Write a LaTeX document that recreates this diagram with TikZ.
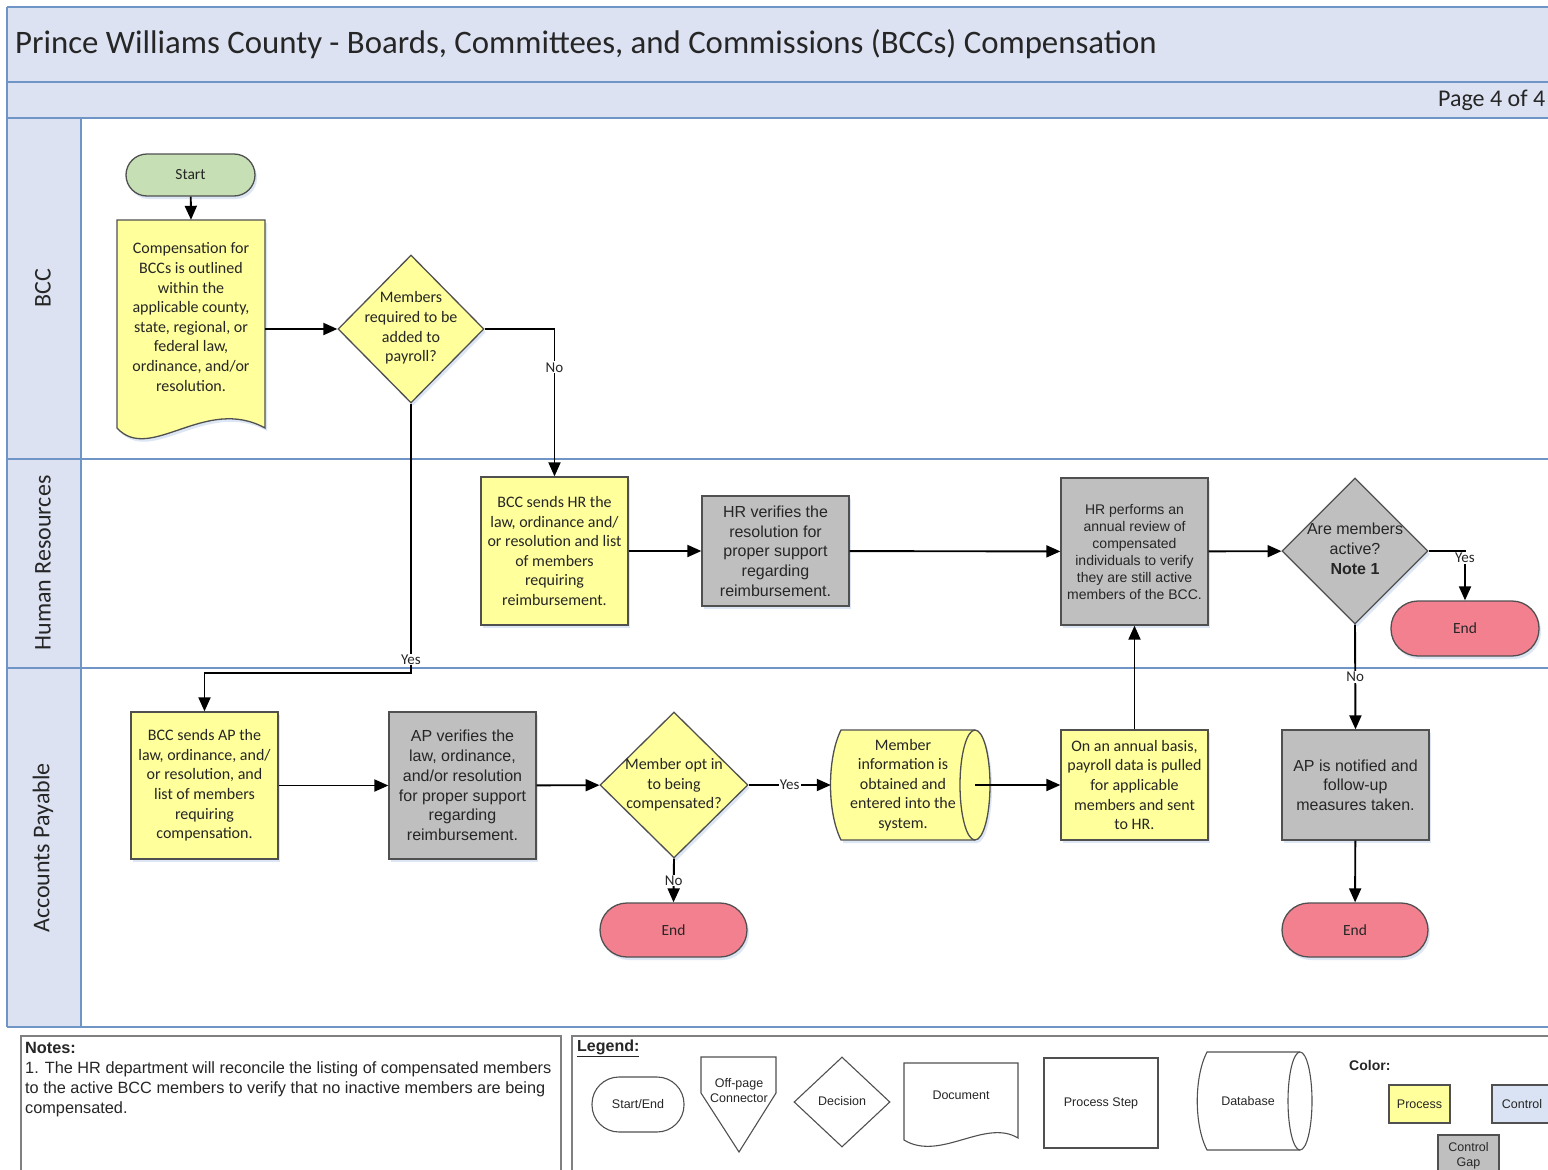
\documentclass[tikz,border=0pt]{standalone}
\usepackage{fontspec}
\setmainfont{Carlito}
\newfontfamily\calfnt{Carlito}
\newfontfamily\arifnt{Liberation Sans}
\usetikzlibrary{shapes.geometric,arrows.meta,shadows}
\definecolor{lanebg}{HTML}{DCE2F2}
\definecolor{laneline}{HTML}{6F94C6}
\definecolor{procy}{HTML}{FFFF9C}
\definecolor{gapg}{HTML}{BFBFBF}
\definecolor{endr}{HTML}{F2808F}
\definecolor{startg}{HTML}{C6DFB4}
\definecolor{ctrlb}{HTML}{DAE3F3}
\definecolor{boxline}{HTML}{505050}
\definecolor{txt}{HTML}{262626}
\definecolor{shadowc}{HTML}{DCE6F4}
\definecolor{frameg}{HTML}{808080}
\tikzset{
  lane/.style={draw=laneline, line width=2pt},
  box/.style={draw=boxline, line width=1.3pt, inner sep=2pt, align=center, text=txt},
  shad/.style={drop shadow={shadow xshift=2pt, shadow yshift=-3pt, fill=shadowc, opacity=1}},
  proc/.style={box, shad, fill=procy, font=\calfnt\fontsize{16}{19.6}\selectfont},
  gapbox/.style={box, shad, fill=gapg, font=\arifnt\fontsize{16}{19.7}\selectfont},
  dec/.style={box, shad, diamond, aspect=1, inner sep=0pt},
  dectxt/.style={align=center, text=txt, inner sep=0pt},
  term/.style={box, shad, font=\calfnt\fontsize{15.5}{15.5}\selectfont},
  arr/.style={draw=black, line width=1.9pt, -{Triangle[length=14pt,width=12pt]}},
  lbl/.style={fill=white, inner sep=1pt, text=txt, font=\calfnt\fontsize{15}{15}\selectfont},
  lanelbl/.style={rotate=90, text=txt, font=\calfnt\fontsize{24}{24}\selectfont},
  legbox/.style={draw=boxline, line width=1.1pt, fill=white, align=center, text=txt, inner sep=1pt, font=\arifnt\fontsize{12.5}{15}\selectfont},
  legtxt/.style={align=center, text=txt, inner sep=0pt, font=\arifnt\fontsize{12.5}{15}\selectfont},
  framebox/.style={draw=frameg, line width=1.5pt}
}
\begin{document}
\begin{tikzpicture}[x=1pt,y=-1pt]
\useasboundingbox (0,0) rectangle (1548,1170);
\clip (0,0) rectangle (1548,1170);
\fill[white] (0,0) rectangle (1548,1170);
% frame and lanes
\fill[lanebg] (7,7) rectangle (1560,118);
\fill[lanebg] (7,118) rectangle (81,1027);
\draw[lane] (7,7) -- (1560,7);
\draw[lane] (7,82) -- (1560,82);
\draw[lane] (7,118) -- (1560,118);
\draw[lane] (7,459) -- (1560,459);
\draw[lane] (7,668) -- (1560,668);
\draw[lane] (7,1027) -- (1560,1027);
\draw[lane] (7,7) -- (7,1027);
\draw[lane] (81,118) -- (81,1027);
\node[anchor=west, text=txt, font=\calfnt\fontsize{32.8}{33}\selectfont, inner sep=0pt] (title) at (15,44) {Prince Williams County - Boards, Committees, and Commissions (BCCs) Compensation};
\node[anchor=west, text=txt, font=\calfnt\fontsize{24}{24}\selectfont, inner sep=0pt] (page) at (1438,100) {Page 4 of 4};
\node[lanelbl] (lbcc) at (43,288) {BCC};
\node[lanelbl] (lhr) at (43,563) {Human Resources};
\node[lanelbl] (lap) at (43,848) {Accounts Payable};

% ---------- BCC lane
\node[term, fill=startg, minimum width=129pt, minimum height=42pt, rounded corners=21pt] (start) at (190.5,175) {Start};
\node[minimum width=148pt, minimum height=220pt, inner sep=0pt] (doc1) at (191,330) {};
\fill[shadowc] (119,223) -- (267,223) -- (267,431) .. controls (207,398) and (152,467) .. (119,431) -- cycle;
\draw[box, fill=procy] (117,220) -- (265,220) -- (265,428) .. controls (205,395) and (150,464) .. (117,428) -- cycle;
\node[dectxt, font=\calfnt\fontsize{16}{19.6}\selectfont] (doc1t) at (191,317) {Compensation for\\BCCs is outlined\\within the\\applicable county,\\state, regional, or\\federal law,\\ordinance, and/or\\resolution.};
\node[dec, fill=procy, minimum width=146pt, minimum height=148pt] (d1) at (411,329) {};
\node[dectxt, font=\calfnt\fontsize{16}{19.6}\selectfont] (d1t) at (411,328) {Members\\required to be\\added to\\payroll?};

% ---------- HR lane
\node[proc, minimum width=147pt, minimum height=148pt] (hr1) at (554.5,551) {BCC sends HR the\\law, ordinance and/\\or resolution and list\\of members\\requiring\\reimbursement.};
\node[gapbox, minimum width=147pt, minimum height=110pt] (hr2) at (775.5,551) {HR verifies the\\resolution for\\proper support\\regarding\\reimbursement.};
\node[gapbox, font=\arifnt\fontsize{14}{17}\selectfont, minimum width=147pt, minimum height=147pt] (hr3) at (1134.5,551.5) {HR performs an\\annual review of\\compensated\\individuals to verify\\they are still active\\members of the BCC.};
\node[dec, fill=gapg, minimum width=146pt, minimum height=146pt] (d2) at (1355,551) {};
\node[dectxt, font=\arifnt\fontsize{16}{20}\selectfont] (d2t) at (1355,549) {Are members\\active?\\\textbf{Note 1}};
\node[term, fill=endr, minimum width=148pt, minimum height=55pt, rounded corners=27pt] (end1) at (1465,628.5) {End};

% ---------- AP lane
\node[proc, minimum width=147pt, minimum height=147pt] (ap1) at (204.5,785.5) {BCC sends AP the\\law, ordinance, and/\\or resolution, and\\list of members\\requiring\\compensation.};
\node[gapbox, minimum width=147pt, minimum height=147pt] (ap2) at (462.5,785.5) {AP verifies the\\law, ordinance,\\and/or resolution\\for proper support\\regarding\\reimbursement.};
\node[dec, fill=procy, minimum width=148pt, minimum height=146pt] (d3) at (674,785) {};
\node[dectxt, font=\calfnt\fontsize{16}{19.6}\selectfont] (d3t) at (674,785) {Member opt in\\to being\\compensated?};
\node[term, fill=endr, minimum width=147pt, minimum height=54pt, rounded corners=27pt] (end2) at (673.5,930) {End};
% database
\node[minimum width=159pt, minimum height=110pt, inner sep=0pt] (db) at (910.5,785) {};
\coordinate (dbin) at (975,785);
\fill[shadowc] (843,733) -- (977,733) .. controls (985.3,733) and (992,757.6) .. (992,788) .. controls (992,818.4) and (985.3,843) .. (977,843) -- (843,843) -- cycle;
\draw[box, fill=procy] (841,730) -- (975,730) .. controls (983.3,730) and (990,754.6) .. (990,785) .. controls (990,815.4) and (983.3,840) .. (975,840) -- (841,840) .. controls (827,812) and (827,758) .. (841,730) -- cycle;
\draw[box] (975,730) .. controls (966.7,730) and (960,754.6) .. (960,785) .. controls (960,815.4) and (966.7,840) .. (975,840);
\node[dectxt, font=\calfnt\fontsize{16}{19.6}\selectfont] (dbt) at (903,785) {Member\\information is\\obtained and\\entered into the\\system.};
\node[proc, minimum width=147pt, minimum height=110pt] (ap4) at (1134.5,785) {On an annual basis,\\payroll data is pulled\\for applicable\\members and sent\\to HR.};
\node[gapbox, minimum width=147pt, minimum height=110pt] (ap5) at (1355.5,785) {AP is notified and\\follow-up\\measures taken.};
\node[term, fill=endr, minimum width=146pt, minimum height=54pt, rounded corners=27pt] (end3) at (1355,930) {End};

% ---------- connectors
\draw[arr] (start) -- (doc1t.north |- doc1.north);
\draw[arr] (doc1.east |- d1) -- (d1.west);
\draw[arr] (d1.east) -| node[lbl, pos=0.63] {No} (hr1.north);
\coordinate (ybend) at (411,673);
\draw[arr] (d1.south) -- node[lbl, pos=0.95] {Yes} (ybend) -| (ap1.north);
\draw[arr] (hr1) -- (hr2);
\draw[arr] (hr2) -- (hr3);
\draw[arr] (hr3) -- (d2);
\draw[arr] (d2.east) -| node[lbl, pos=0.57] {Yes} (end1.north);
\draw[arr] (d2.south) -- node[lbl, pos=0.5] {No} (ap5.north);
\draw[arr] (ap1) -- (ap2);
\draw[arr] (ap2) -- (d3);
\draw[arr] (d3.east) -- node[lbl, pos=0.5] {Yes} (db.west);
\draw[arr] (d3.south) -- node[lbl, pos=0.5] {No} (end2.north);
\draw[arr] (dbin) -- (ap4.west);
\draw[arr] (ap4.north) -- (hr3.south);
\draw[arr] (ap5) -- (end3);

% ---------- notes
\draw[framebox] (21,1036) rectangle (561,1190);
\node[anchor=north west, align=left, inner sep=0pt, text=txt, font=\arifnt\fontsize{16.3}{20}\selectfont] (notes) at (25,1042) {\textbf{Notes:}\\1. The HR department will reconcile the listing of compensated members\\to the active BCC members to verify that no inactive members are being\\compensated.};

% ---------- legend
\draw[framebox] (572,1036) rectangle (1560,1190);
\node[anchor=west, inner sep=0pt, text=txt, font=\arifnt\bfseries\fontsize{16}{16}\selectfont] (legt) at (577,1048) {\underline{Legend:}};
\node[legbox, minimum width=92pt, minimum height=55pt, rounded corners=27pt] (lse) at (638,1104.5) {Start/End};
\draw[legbox] (701,1057) -- (776,1057) -- (776,1093) -- (739,1152) -- (701,1093) -- cycle;
\node[legtxt] (lopc) at (739,1091) {Off-page\\Connector};
\node[legbox, diamond, aspect=1, minimum width=96pt, minimum height=90pt] (ldec) at (842,1102) {};
\node[legtxt] (ldect) at (842,1101) {Decision};
\draw[legbox] (904,1063) -- (1018,1063) -- (1018,1138) .. controls (985,1118) and (940,1162) .. (904,1140) -- cycle;
\node[legtxt] (ldoc) at (961,1095) {Document};
\node[legbox, minimum width=114pt, minimum height=90pt] (lps) at (1101,1103) {Process Step};
\draw[legbox] (1207,1052) -- (1300,1052) .. controls (1306.6,1052) and (1312,1073.9) .. (1312,1101) .. controls (1312,1128.1) and (1306.6,1150) .. (1300,1150) -- (1207,1150) .. controls (1194,1125) and (1194,1077) .. (1207,1052) -- cycle;
\draw[legbox] (1300,1052) .. controls (1293.4,1052) and (1288,1073.9) .. (1288,1101) .. controls (1288,1128.1) and (1293.4,1150) .. (1300,1150);
\node[legtxt] (ldb) at (1248,1101) {Database};
\node[anchor=west, inner sep=0pt, text=txt, font=\arifnt\bfseries\fontsize{14}{14}\selectfont] (lcol) at (1349,1065) {Color:};
\node[legbox, fill=procy, minimum width=61pt, minimum height=38pt] (lpr) at (1419.5,1104) {Process};
\node[legbox, fill=ctrlb, minimum width=60pt, minimum height=38pt] (lctl) at (1522,1104) {Control};
\node[legbox, fill=gapg, minimum width=61pt, minimum height=42pt] (lgap) at (1468.5,1156) {Control\\Gap};
\end{tikzpicture}
\end{document}
